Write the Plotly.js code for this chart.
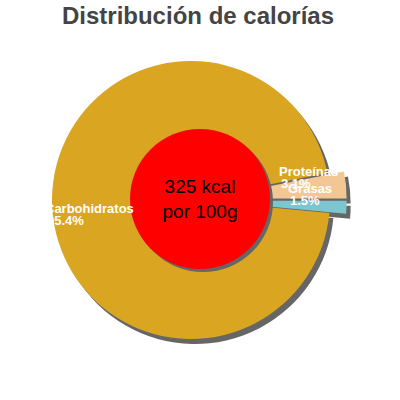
<!DOCTYPE html>
<html>
<head>
<meta charset="utf-8">
<script src="https://cdn.plot.ly/plotly-3.0.1.min.js"></script>
<style>
  html, body { margin: 0; padding: 0; background: #fff; }
  #chart { width: 400px; height: 400px; }
</style>
</head>
<body>
<div id="chart"></div>
<script>
// Chart data
var labels = ['Grasas', 'Proteínas', 'Carbohidratos'];
var percents = [1.5, 3.1, 95.4];
var pulls = [0.12, 0.12, 0];
var colors = ['#7cc7cf', '#f3c794', '#daa520'];
var energy_kcal = 325;
var energy_text = energy_kcal + ' kcal<br>por 100g';

var label_font = 'Liberation Sans, Arial, sans-serif';

// domain helper: center (px from left/top) and half-size in px
function dom(cx, cy, half) {
    return {
        x: [(cx - half) / 400, (cx + half) / 400],
        y: [(400 - cy - half) / 400, (400 - cy + half) / 400]
    };
}

var pie_cx = 191, pie_cy = 200, pie_r = 139;
var pie_half = pie_r * 1.12;

function base_pie(color_list, d) {
    return {
        type: 'pie',
        values: percents,
        labels: labels,
        sort: false,
        direction: 'counterclockwise',
        rotation: 90,
        pull: pulls,
        domain: d,
        textinfo: 'none',
        hoverinfo: 'skip',
        marker: { colors: color_list, line: { width: 0 } },
        showlegend: false
    };
}

var shadow = base_pie(['#666', '#666', '#666'], dom(pie_cx + 4, pie_cy + 5, pie_half));
var main = base_pie(colors, dom(pie_cx, pie_cy, pie_half));

var red_shadow = {
    type: 'pie', values: [1], labels: ['kcal'], sort: false,
    domain: dom(203, 202, 70), textinfo: 'none', hoverinfo: 'skip',
    marker: { colors: ['#666'], line: { width: 0 } }, showlegend: false
};
var red = {
    type: 'pie', values: [1], labels: ['kcal'], sort: false,
    domain: dom(200, 199, 70), text: [energy_text], textinfo: 'text',
    textposition: 'inside', insidetextorientation: 'horizontal',
    textfont: { color: '#000', size: 19, family: label_font },
    hoverinfo: 'skip',
    marker: { colors: ['#ff0000'], line: { width: 0 } }, showlegend: false
};

// slice labels: name centred on the slice bisector, percent left-aligned under it
var ctx = document.createElement('canvas').getContext('2d');
ctx.font = 'bold 13px ' + label_font;
var total = percents.reduce(function (a, b) { return a + b; }, 0);
var annotations = [];
var start = 0;
percents.forEach(function (p, i) {
    var mid = (start + p / 2) / total * 2 * Math.PI;   // counterclockwise from 3 o'clock
    start += p;
    var rad = pie_r * (0.74 + pulls[i]);
    var px = pie_cx + rad * Math.cos(mid);
    var py = pie_cy - rad * Math.sin(mid);
    var w = ctx.measureText(labels[i]).width;
    annotations.push({
        xref: 'paper', yref: 'paper', x: px / 400, y: (400 - py + 6) / 400,
        xanchor: 'center', yanchor: 'middle', showarrow: false,
        text: '<b>' + labels[i] + '</b>',
        font: { family: label_font, size: 13, color: '#fff' }
    });
    annotations.push({
        xref: 'paper', yref: 'paper', x: (px - w / 2) / 400, y: (400 - py - 6) / 400,
        xanchor: 'left', yanchor: 'middle', showarrow: false,
        text: '<b>' + p + '%</b>',
        font: { family: label_font, size: 13, color: '#fff' }
    });
});

var layout = {
    width: 400,
    height: 400,
    margin: { l: 0, r: 0, t: 0, b: 0 },
    paper_bgcolor: '#fff',
    title: {
        text: '<b>Distribución de calorías</b>',
        x: 0.495, xanchor: 'center', y: 0.962, yanchor: 'middle',
        font: { family: label_font, size: 24, color: '#444' }
    },
    annotations: annotations,
    showlegend: false
};

Plotly.newPlot('chart', [shadow, main, red_shadow, red], layout, { displayModeBar: false, staticPlot: true });
</script>
</body>
</html>
